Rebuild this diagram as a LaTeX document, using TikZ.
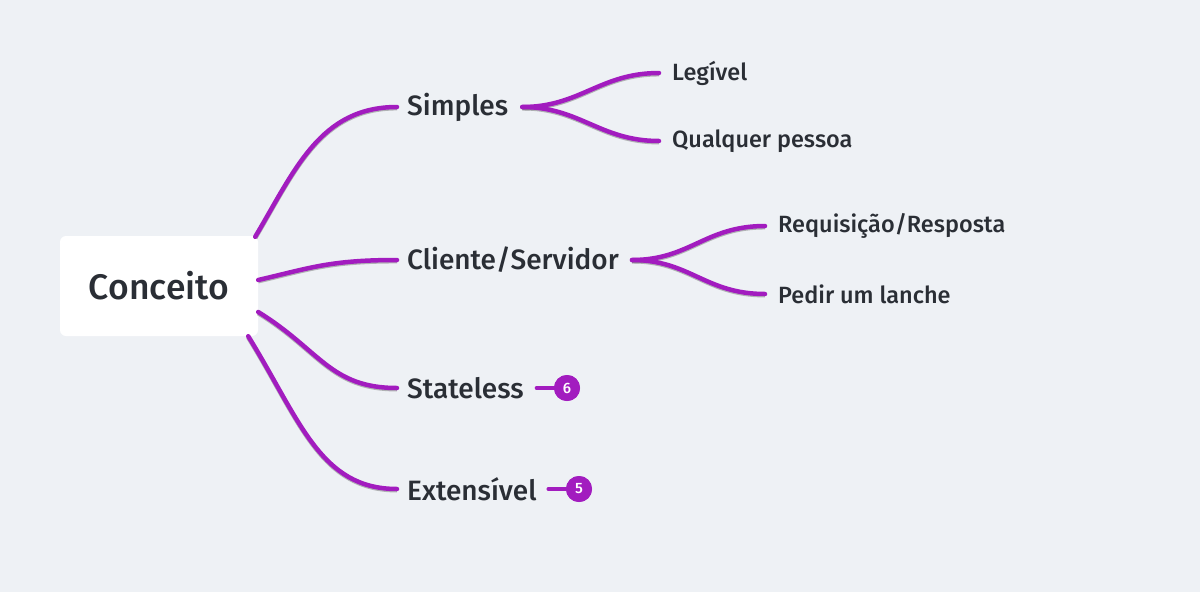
\documentclass[tikz,border=0pt]{standalone}
\usepackage{fontspec}
\setmainfont{Fira Sans}[UprightFont=* Medium]
\usetikzlibrary{positioning}
\definecolor{fundo}{HTML}{EEF1F5}
\definecolor{roxo}{HTML}{A21CBF}
\definecolor{texto}{HTML}{2A2E35}

\begin{document}
\begin{tikzpicture}[x=1pt,y=-1pt,
  raiz/.style={fill=white, rounded corners=6pt, minimum width=198pt, minimum height=100pt,
    text=texto, font=\fontsize{35.5}{40}\selectfont},
  topico/.style={anchor=west, inner sep=0pt, text=texto, font=\fontsize{28}{32}\selectfont},
  folha/.style={anchor=west, inner sep=0pt, text=texto, font=\fontsize{23.5}{27}\selectfont},
  ramo/.style={draw=roxo, line width=4.5pt, line cap=round,
    preaction={draw=black!60, line width=4.5pt, opacity=0.45, transform canvas={yshift=-1.2pt}}},
  contador/.style={circle, fill=roxo, minimum size=26pt, inner sep=0pt,
    text=white, font=\fontsize{15}{17}\selectfont}]

% fundo da tela
\fill[fundo] (0,0) rectangle (1200,592);

% no central
\node[raiz] (conceito) at (159,286) {Conceito};

% topicos
\node[topico] (simples) at (407,107) {Simples};
\node[topico] (cliente) at (407,260) {Cliente/Servidor};
\node[topico] (stateless) at (407,388) {Stateless};
\node[topico] (extensivel) at (407,489) {Extensível};

% folhas
\node[folha] (legivel) at (672,73) {Legível};
\node[folha] (pessoa) at (672,141) {Qualquer pessoa};
\node[folha] (requisicao) at (778,226) {Requisição/Resposta};
\node[folha] (lanche) at (778,294) {Pedir um lanche};

% contadores
\node[contador] (n6) at (567,388) {6};
\node[contador] (n5) at (579,489) {5};

% ramos do no central
\draw[ramo] (conceito.north east) ++(-3,1) .. controls (295,170) and (320,107) .. ([xshift=-10pt]simples.west);
\draw[ramo] ([yshift=6pt]conceito.east) .. controls (310,268) and (330,260) .. ([xshift=-10pt]cliente.west);
\draw[ramo] ([yshift=-26pt]conceito.east) .. controls (320,350) and (330,388) .. ([xshift=-10pt]stateless.west);
\draw[ramo] (conceito.south east) ++(-10,0) .. controls (300,420) and (320,489) .. ([xshift=-10pt]extensivel.west);

% ramos das folhas
\draw[ramo] ([xshift=14pt]simples.east) .. controls (580,107) and (600,73) .. ([xshift=-13pt]legivel.west);
\draw[ramo] ([xshift=14pt]simples.east) .. controls (580,107) and (600,141) .. ([xshift=-13pt]pessoa.west);
\draw[ramo] ([xshift=13pt]cliente.east) .. controls (690,260) and (705,226) .. ([xshift=-13pt]requisicao.west);
\draw[ramo] ([xshift=13pt]cliente.east) .. controls (690,260) and (705,294) .. ([xshift=-13pt]lanche.west);

% ligacoes dos contadores
\draw[draw=roxo, line width=4.5pt, line cap=round] ([xshift=13pt]stateless.east) -- (n6);
\draw[draw=roxo, line width=4.5pt, line cap=round] ([xshift=12pt]extensivel.east) -- (n5);
\node[contador] at (n6) {6};
\node[contador] at (n5) {5};
\end{tikzpicture}
\end{document}
